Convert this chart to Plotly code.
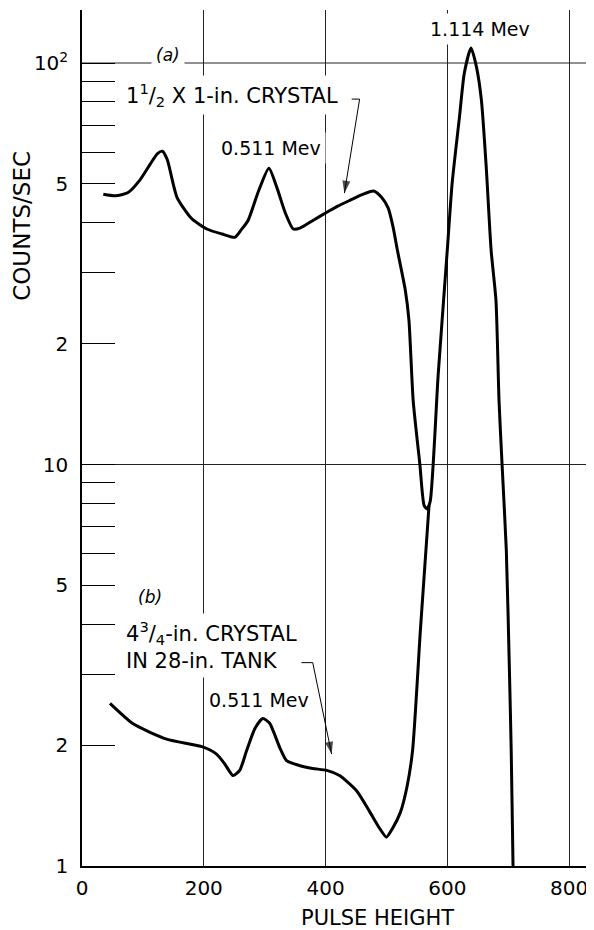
import math
import plotly.graph_objects as go

# ---------------- data ----------------
pulse_a = [35, 55, 75, 95, 112, 124, 132, 140, 156, 180, 205, 230, 251, 262, 273, 290,
           307, 320, 334, 347, 358, 380, 400, 420, 440, 460, 479, 492, 503, 511, 518,
           531, 537, 544, 555, 562, 567, 572, 585, 600, 608, 620, 628, 639, 648,
           656, 664, 672, 680, 685, 690, 697, 702, 705, 708, 709]
counts_a = [47.1, 46.7, 47.5, 51.1, 56.0, 59.5, 60.3, 57.5, 46.3, 41.0, 38.6, 37.5, 36.8,
            38.5, 40.6, 48.0, 54.7, 49.0, 42.3, 38.6, 38.8, 40.6, 42.3, 44.0, 45.5, 47.0,
            48.0, 46.3, 43.5, 39.0, 34.2, 27.2, 22.9, 14.4, 10.0, 7.9, 7.75, 8.1,
            16.7, 34.2, 50.2, 73.3, 94.4, 109.0, 97.7, 80.9, 55.0, 34.2, 25.6, 14.4,
            10.0, 6.1, 3.1, 1.94, 1.0, 0.82]

pulse_b = [46, 84, 139, 198, 221, 234, 248, 259, 270, 284, 297, 308, 325, 336, 357, 379,
           402, 423, 451, 472, 489, 500, 510, 523, 534, 543, 556, 570]
counts_b = [2.54, 2.26, 2.07, 1.98, 1.90, 1.80, 1.68, 1.73, 1.93, 2.20, 2.33, 2.27, 1.97,
            1.83, 1.78, 1.75, 1.73, 1.68, 1.54, 1.37, 1.24, 1.18, 1.24, 1.36, 1.58, 1.94,
            3.9, 7.9]

x_tickvals = [0, 200, 400, 600, 800]
x_ticktext = ["0", "200", "400", "600", "800"]
y_tickvals = [1, 2, 5, 10, 20, 50, 100]
y_ticktext = ["1", "2", "5", "10", "2", "5", "10<sup>2</sup>"]
y_minorvals = [3, 4, 6, 7, 8, 9, 30, 40, 60, 70, 80, 90]
y_gridvals = [10, 100]

FONT = "DejaVu Sans"

fig = go.Figure()

# horizontal grid lines at the decades
for g in y_gridvals:
    fig.add_shape(type="line", xref="paper", yref="y", x0=0, x1=1, y0=g, y1=g,
                  line=dict(color="#222222", width=1), layer="below")

fig.add_trace(go.Scatter(x=pulse_a, y=counts_a, mode="lines",
                         line=dict(color="black", width=3, shape="spline", smoothing=0.6),
                         hoverinfo="skip"))
fig.add_trace(go.Scatter(x=pulse_b, y=counts_b, mode="lines",
                         line=dict(color="black", width=3, shape="spline", smoothing=0.6),
                         hoverinfo="skip"))

L = math.log10


def label(text, x, y, size=19, xanchor="center", italic=False, align="center"):
    fig.add_annotation(x=x, y=L(y), xref="x", yref="y", text=text, showarrow=False,
                       xanchor=xanchor, yanchor="middle", align=align,
                       bgcolor="white", borderpad=4,
                       font=dict(family=FONT, size=size, color="black",
                                 style="italic" if italic else "normal"))


def leader(xs, ys):
    # bent leader line ending in a narrow arrow head
    n = len(xs)
    fig.add_trace(go.Scatter(
        x=xs, y=ys, mode="lines+markers", hoverinfo="skip",
        line=dict(color="black", width=1),
        marker=dict(symbol=["circle"] * (n - 1) + ["arrow"],
                    size=[0] * (n - 1) + [13], color="black",
                    angleref="previous", line=dict(width=0))))


label("(a)", 141, 104.7, size=17, italic=True)
label("1<sup>1</sup>/<sub>2</sub> X 1-in. CRYSTAL", 64, 83.2, size=21, xanchor="left")
label("0.511 Mev", 310, 61.4, size=19)
label("1.114 Mev", 654, 121.6, size=19)
label("(b)", 111, 4.69, size=17, italic=True)
label("4<sup>3</sup>/<sub>4</sub>-in. CRYSTAL<br>IN 28-in. TANK", 64, 3.55, size=21,
      xanchor="left", align="left")
label("0.511 Mev", 290, 2.59, size=19)

# leader lines with arrows
leader([443, 456, 431], [81.3, 81.3, 47.4])
leader([349, 379, 410], [3.21, 3.21, 1.90])

# axis titles
fig.add_annotation(x=-0.117, y=0.748, xref="paper", yref="paper", text="COUNTS/SEC",
                   showarrow=False, textangle=-90, xanchor="center", yanchor="middle",
                   font=dict(family=FONT, size=23, color="black"))
fig.add_annotation(x=0.578, y=-0.061, xref="paper", yref="paper", text="PULSE HEIGHT",
                   showarrow=False, xanchor="center", yanchor="middle",
                   font=dict(family=FONT, size=21, color="black"))

fig.update_layout(
    width=594, height=930,
    margin=dict(l=74, r=8, t=2, b=72),
    plot_bgcolor="white", paper_bgcolor="white",
    showlegend=False,
    font=dict(family=FONT, color="black"),
)
fig.update_xaxes(range=[0, 841], tickmode="array", tickvals=x_tickvals, ticktext=x_ticktext,
                 showgrid=True, gridcolor="#222222", gridwidth=1,
                 showline=True, linecolor="black", linewidth=1.5, ticks="",
                 zeroline=False, tickfont=dict(family=FONT, size=20),
                 ticklabelstandoff=3)
fig.update_yaxes(type="log", range=[0, 2.132], tickmode="array",
                 tickvals=y_tickvals, ticktext=y_ticktext,
                 ticks="inside", ticklen=33, tickwidth=1, tickcolor="black",
                 showgrid=False, showline=True, linecolor="black", linewidth=1.5,
                 zeroline=False, tickfont=dict(family=FONT, size=20),
                 ticklabelstandoff=8,
                 minor=dict(tickmode="array", tickvals=y_minorvals, showgrid=False,
                            ticks="inside", ticklen=33, tickwidth=1, tickcolor="black"))

fig.write_html("out.html")
